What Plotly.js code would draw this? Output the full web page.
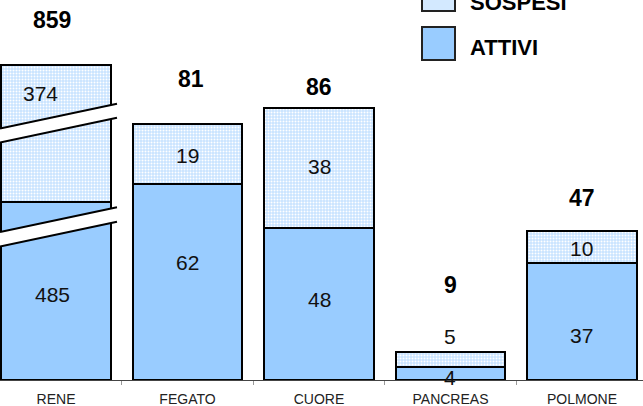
<!DOCTYPE html>
<html>
<head>
<meta charset="utf-8">
<script src="https://cdn.plot.ly/plotly-3.0.1.min.js"></script>
<style>html,body{margin:0;padding:0;background:#fff;}#chart{width:643px;height:406px;}</style>
</head>
<body>
<div id="chart"></div>
<script>
// ---- data ----
const categories = ['RENE', 'FEGATO', 'CUORE', 'PANCREAS', 'POLMONE'];
const attivi  = [485, 62, 48, 4, 37];
const sospesi = [374, 19, 38, 5, 10];
const totali  = [859, 81, 86, 9, 47];
// RENE is drawn on a broken (interrupted) axis, so its drawn heights are compressed
const attiviDrawn  = [56.4, 62, 48, 4, 37];
const sospesiDrawn = [43.3, 19, 38, 5, 10];
const seriesNames = ['SOSPESI', 'ATTIVI'];

// ---- label placement (axis units), separate from the data ----
const labelYSospesi = [90.8, 70.9, 67.7, 13.9, 41.5];
const labelYAttivi  = [27.1, 37.3, 25.6, 0.95, 14.2];
const labelYTotali  = [113.8, 95.3, 92.7, 30.1, 57.6];
const labelXShiftSospesi = [-16, 0, 0, 0, 0];
const labelXShiftAttivi  = [-4, 0, 0, 0, 0];
const labelXShiftTotali  = [-4, 3, 0, 0, 0];

const FONT = 'Arial, "Liberation Sans", Helvetica, sans-serif';
const BLUE = '#99ccff';

const traces = [
  {
    type: 'bar', x: categories, y: attiviDrawn, name: seriesNames[1],
    marker: {color: BLUE, line: {color: '#000', width: 2}},
    hoverinfo: 'none', showlegend: false
  },
  {
    type: 'bar', x: categories, y: sospesiDrawn, name: seriesNames[0],
    marker: {
      color: '#c8e3ff',
      line: {color: '#000', width: 2},
      pattern: {shape: '.', fgcolor: '#ffffff', bgcolor: '#c8e3ff', size: 3, solidity: 0.35}
    },
    hoverinfo: 'none', showlegend: false
  }
];

const annotations = [];
categories.forEach((c, i) => {
  annotations.push({x: i, y: labelYSospesi[i], xref: 'x', yref: 'y', text: String(sospesi[i]),
    showarrow: false, xshift: labelXShiftSospesi[i], font: {family: FONT, size: 21, color: '#111'}});
  annotations.push({x: i, y: labelYAttivi[i], xref: 'x', yref: 'y', text: String(attivi[i]),
    showarrow: false, xshift: labelXShiftAttivi[i], font: {family: FONT, size: 21, color: '#111'}});
  annotations.push({x: i, y: labelYTotali[i], xref: 'x', yref: 'y', text: '<b>' + totali[i] + '</b>',
    showarrow: false, xshift: labelXShiftTotali[i], font: {family: FONT, size: 23, color: '#000'}});
});

// legend (custom, large squares)
const W = 643, PH = 380;
const px = v => v / W, py = v => (PH - v) / PH;
annotations.push({x: px(468), y: py(2.5), xref: 'paper', yref: 'paper', xanchor: 'left', yanchor: 'middle',
  text: '<b>' + seriesNames[0] + '</b>', showarrow: false, font: {family: FONT, size: 22, color: '#000'}});
annotations.push({x: px(468), y: py(47.7), xref: 'paper', yref: 'paper', xanchor: 'left', yanchor: 'middle',
  text: '<b>' + seriesNames[1] + '</b>', showarrow: false, font: {family: FONT, size: 22, color: '#000'}});

const shapes = [
  {type: 'rect', xref: 'paper', yref: 'paper', x0: px(422), x1: px(455), y0: py(-22), y1: py(11),
   fillcolor: '#d3e9ff', line: {color: '#222', width: 2}},
  {type: 'rect', xref: 'paper', yref: 'paper', x0: px(422), x1: px(455), y0: py(27), y1: py(60),
   fillcolor: BLUE, line: {color: '#222', width: 2}}
];

// break marks on the RENE bar (slanted white bands with black cut edges), pixel geometry
const bx = v => v / 131.5 - 0.426;
const by = v => (380 - v) / 3.16;
const bands = [[128.5, 103.7, 142.5, 117.7], [232, 207.2, 246.5, 221.7]];
bands.forEach(b => {
  const [uL, uR, lL, lR] = b;
  shapes.push({type: 'path', xref: 'x', yref: 'y', layer: 'above',
    path: `M ${bx(-2)} ${by(uL + 0.4)} L ${bx(119)} ${by(uR - 0.2)} L ${bx(119)} ${by(lR - 0.2)} L ${bx(-2)} ${by(lL + 0.4)} Z`,
    fillcolor: '#ffffff', line: {width: 0}});
  shapes.push({type: 'line', xref: 'x', yref: 'y', x0: bx(0), y0: by(uL), x1: bx(117), y1: by(uR),
    line: {color: '#000', width: 2}});
  shapes.push({type: 'line', xref: 'x', yref: 'y', x0: bx(0), y0: by(lL), x1: bx(117), y1: by(lR),
    line: {color: '#000', width: 2}});
});

const layout = {
  width: 643, height: 406,
  margin: {l: 0, r: 0, t: 0, b: 26, pad: 0},
  paper_bgcolor: '#fff', plot_bgcolor: '#fff',
  barmode: 'stack', bargap: 0.17,
  showlegend: false,
  xaxis: {
    type: 'category', range: [-0.426, 4.464], fixedrange: true,
    showline: true, linecolor: '#444', linewidth: 1,
    ticks: 'outside', tickson: 'boundaries', ticklen: 4, tickcolor: '#999', tickwidth: 1,
    ticklabelstandoff: 6,
    showgrid: false, zeroline: false,
    tickfont: {family: FONT, size: 14, color: '#222'}
  },
  yaxis: {range: [0, 120.25], visible: false, fixedrange: true},
  annotations: annotations,
  shapes: shapes
};

Plotly.newPlot('chart', traces, layout, {staticPlot: true, displayModeBar: false});
</script>
</body>
</html>
